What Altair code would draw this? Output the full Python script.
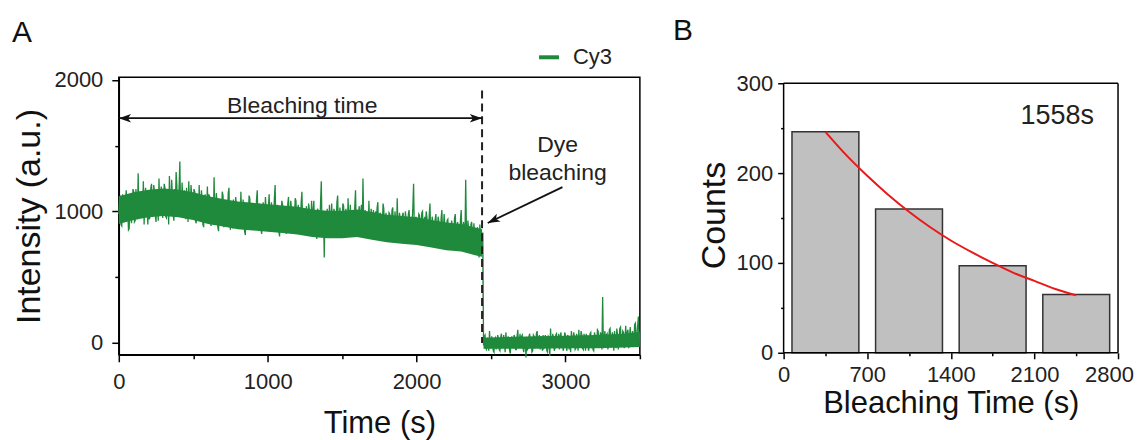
import altair as alt
import pandas as pd

# ---------------- Panel A data: Cy3 intensity trace ----------------
# Samples: one value every 10 s (t = 0, 10, ...)
# and one in between (t = 5, 15, ...).
TIME_STEP = 10
intensity_a = [
    980, 1120, 890, 1050, 940, 1160, 1010, 870, 1080, 990,
    1150, 930, 1060, 1290, 960, 1100, 1020, 900, 1180, 1040,
    1090, 960, 1210, 1030, 1140, 920, 1070, 1250, 990, 1110,
    1040, 1180, 950, 1100, 1270, 1000, 1130, 930, 1060, 1200,
    1020, 1380, 960, 1090, 1160, 940, 1070, 1230, 990, 1120,
    1000, 1150, 910, 1060, 1200, 950, 1080, 880, 1130, 1010,
    970, 1110, 890, 1040, 1260, 930, 1050, 850, 1090, 990,
    1120, 900, 1030, 960, 1180, 860, 1010, 1090, 920, 1050,
    880, 1000, 1150, 910, 980, 820, 1060, 940, 1100, 960,
    870, 1020, 940, 1160, 900, 990, 830, 1070, 950, 1010,
    900, 1130, 860, 990, 940, 1200, 880, 1010, 810, 960,
    1050, 900, 980, 850, 1110, 940, 1020, 870, 960, 1080,
    890, 1000, 930, 1150, 840, 970, 1040, 880, 1010, 920,
    860, 1080, 950, 790, 1000, 900, 1230, 870, 650, 960,
    1020, 880, 940, 1060, 830, 990, 910, 1120, 860, 950,
    900, 1040, 820, 970, 1100, 880, 930, 1010, 850, 1160,
    920, 980, 860, 1050, 1250, 900, 820, 960, 1080, 870,
    940, 1010, 850, 900, 1070, 830, 960, 890, 1020, 860,
    910, 800, 980, 870, 1030, 840, 920, 1100, 820, 950,
    880, 990, 820, 930, 860, 1010, 790, 900, 1210, 850,
    920, 810, 970, 860, 1000, 780, 890, 950, 840, 1060,
    830, 900, 760, 980, 870, 920, 800, 1010, 850, 890,
    790, 940, 850, 720, 900, 820, 980, 760, 870, 810,
    1010, 740, 880, 1240, 790, 860, 700, 920, 770, 830,
    720, 880, 650, 810, 760,
    -20, 60, -50, 20, 90, -40, 10, -70, 40, -10,
    30, -60, 70, -20, 10, 80, -40, 20, -80, 50,
    -10, 40, -50, 100, 0, -30, 60, -70, 20, 30,
    -40, 70, 10, -60, 50, -20, 90, 0, -50, 30,
    60, -30, 20, -70, 40, 110, -10, 30, -40, 70,
    0, -50, 80, 20, -30, 60, -60, 40, 10, 90,
    -20, 50, -40, 30, 100, -10, 60, -50, 20, 70,
    10, -30, 80, 40, -60, 50, 0, 90, -20, 60,
    350, 20, -30, 70, 10, 110, -20, 50, 90, -40,
    60, 20, 120, -10, 80, 30, -30, 100, 40, 10,
    90, 30, 150, 60, 200, 70,
]
intensity_b = [
    1090, 900, 1130, 920, 1080, 930, 860, 1100, 910, 1170,
    920, 1170, 940, 980, 1140, 950, 1230, 1110, 960, 900,
    940, 1180, 960, 1200, 970, 1150, 930, 1020, 1190, 950,
    1210, 960, 1160, 900, 1010, 1240, 980, 1170, 1300, 970,
    1190, 1000, 1220, 950, 1010, 1180, 920, 1050, 1200, 960,
    1170, 930, 1120, 960, 990, 1160, 900, 1100, 970, 1190,
    1130, 920, 1100, 900, 980, 1140, 880, 1070, 940, 1150,
    880, 1080, 930, 1140, 920, 1060, 870, 940, 1110, 900,
    1070, 890, 960, 1090, 850, 1030, 900, 1120, 870, 1040,
    1050, 880, 1090, 910, 1060, 860, 1020, 900, 1110, 870,
    1040, 880, 1070, 860, 1100, 900, 1050, 850, 1010, 1080,
    860, 1040, 830, 1060, 900, 1080, 860, 1030, 1100, 880,
    1050, 850, 1070, 890, 1020, 860, 920, 1060, 840, 1080,
    1010, 860, 830, 1020, 850, 1060, 880, 990, 1000, 840,
    850, 1050, 860, 880, 1020, 840, 1070, 880, 1030, 860,
    1060, 860, 1020, 850, 900, 1050, 840, 880, 1040, 870,
    830, 1040, 1000, 850, 920, 1010, 980, 850, 880, 1020,
    840, 880, 1000, 1030, 830, 990, 840, 1060, 830, 990,
    830, 990, 820, 1010, 850, 1000, 810, 880, 990, 830,
    970, 840, 1000, 810, 980, 850, 960, 1030, 860, 960,
    800, 980, 830, 990, 820, 960, 1000, 810, 970, 830,
    960, 800, 940, 820, 960, 780, 950, 820, 980, 790,
    930, 800, 760, 930, 780, 950, 810, 920, 760, 940,
    780, 920, 770, 860, 930, 750, 900, 790, 910, 740,
    860, 730, 900, 700, 840,
    50, -40, 40, -60, -20, 50, -60, 30, -50, 60,
    -50, 40, -30, 60, -70, -10, 50, -60, 30, -40,
    60, -50, 50, -40, 70, 50, -40, 40, -110, -50,
    50, -30, -70, 60, -40, 70, -30, 60, 50, -60,
    -40, 60, -60, 50, -100, -20, 70, -60, 60, -30,
    70, 50, -40, -60, 80, -30, 60, -50, -70, -20,
    80, -50, 70, -60, -20, 90, -40, 70, -60, -30,
    -60, 70, -40, -50, 80, -30, 100, -40, 80, -50,
    -40, 90, 60, -50, 100, -20, 80, -60, 0, 110,
    -50, 110, -30, 90, -40, 130, 80, -40, 120, -30,
    -20, 140, -10, 130, 0,
]
time = [i * TIME_STEP for i in range(len(intensity_a))] + \
       [i * TIME_STEP + TIME_STEP // 2 for i in range(len(intensity_b))]
intensity = intensity_a + intensity_b
series_name = ["Cy3"] * len(intensity)

# solid core of the trace (lower / upper edge read every ~100 s)
core_t = [0, 100, 200, 300, 400, 500, 600, 700, 800, 900, 1000, 1100, 1200, 1300, 1400,
          1500, 1600, 1700, 1800, 1900, 2000, 2100, 2200, 2300, 2400, 2440,
          2450, 2600, 2800, 3000, 3200, 3400, 3500]
core_lo = [905, 935, 955, 965, 955, 935, 905, 885, 865, 855, 845, 835, 825, 805, 795,
           795, 805, 785, 765, 755, 745, 725, 705, 695, 665, 655,
           -45, -45, -45, -40, -40, -35, -30]
core_hi = [1115, 1145, 1165, 1175, 1165, 1145, 1115, 1095, 1075, 1065, 1055, 1045, 1035, 1015, 1005,
           1005, 1015, 995, 975, 965, 955, 935, 915, 905, 875, 865,
           40, 45, 50, 55, 60, 70, 85]

bleach_time = [2440]
dash_top = [1920]
dash_bottom = [0]
span_y = [1709]
span_label = ["Bleaching time"]
span_label_x = [1232]
span_label_y = [1747]
dye_arrow_tail = (2980, 1185)
dye_arrow_head = (2478, 912)
dye_arrow_angle = 244
dye_text = ["Dye", "bleaching"]
dye_text_x = [2947, 2947]
dye_text_y = [1504, 1291]

# ---------------- Panel B data: bleaching-time histogram ----------------
bar_left = [70, 770, 1470, 2170]
bar_right = [630, 1330, 2030, 2730]
counts = [246, 160, 97, 65]
fit_t = [350, 525, 700, 875, 1050, 1225, 1400, 1575, 1750, 1925, 2100, 2275, 2450]
fit_counts = [246, 220, 197, 176, 157, 140, 125, 112, 100, 89, 80, 71, 64]
tau_label = ["1558s"]
tau_x = [2291]
tau_y = [264]

FONT = "Liberation Sans"
GREEN = "#1f8a3c"
ARROW = "M0,0 L0.7,2 L0,1.5 L-0.7,2 Z"


def minor_axis(values, major_step, title, major=7, minor=4, title_size=31, **kw):
    return alt.Axis(
        values=values,
        format="d",
        labelExpr=f"datum.value % {major_step} == 0 ? datum.label : ''",
        tickSize={"condition": {"test": f"datum.value % {major_step} != 0", "value": minor}, "value": major},
        labelFontSize=22, labelFont=FONT, labelColor="#222",
        title=title, titleFontSize=title_size, titleFont=FONT, titleFontWeight="normal", titleColor="#111",
        grid=False, tickColor="black", tickWidth=1.5, domainColor="black", domainWidth=1.5,
        labelOverlap=False, labelFlush=False, **kw,
    )


# ---------------- Panel A ----------------
axA_x = minor_axis(list(range(0, 3501, 500)), 1000, "Time (s)", labelPadding=10, titlePadding=16)
axA_y = minor_axis(list(range(0, 2001, 500)), 1000, "Intensity (a.u.)", title_size=34,
                   labelPadding=9, titlePadding=8)
scA_x = alt.Scale(domain=[0, 3500], nice=False)
scA_y = alt.Scale(domain=[-90, 2020], nice=False)

dfA = pd.DataFrame({"t": time, "I": intensity, "series": series_name}).sort_values("t")

core = alt.Chart(pd.DataFrame({"t": core_t, "lo": core_lo, "hi": core_hi})).mark_area(
    color=GREEN, opacity=1).encode(
    x=alt.X("t:Q", scale=scA_x, axis=axA_x),
    y=alt.Y("lo:Q", scale=scA_y, axis=axA_y),
    y2="hi:Q")

trace = alt.Chart(dfA).mark_line(strokeWidth=1.3).encode(
    x=alt.X("t:Q", scale=scA_x, axis=axA_x),
    y=alt.Y("I:Q", scale=scA_y, axis=axA_y),
    order="t:Q",
    color=alt.Color("series:N", scale=alt.Scale(domain=["Cy3"], range=[GREEN]),
                    legend=alt.Legend(orient="none", legendX=419, legendY=-32, title=None,
                                      symbolType="stroke", symbolStrokeWidth=4, symbolSize=400,
                                      labelOffset=12, labelFontSize=22, labelFont=FONT,
                                      labelColor="#222")),
)

dash = alt.Chart(pd.DataFrame({"x": bleach_time, "y": dash_top, "y2": dash_bottom})).mark_rule(
    color="#222", strokeWidth=2, strokeDash=[8, 5]).encode(x="x:Q", y="y:Q", y2="y2:Q")

span = alt.Chart(pd.DataFrame({"x": [0], "x2": bleach_time, "y": span_y})).mark_rule(
    color="#111", strokeWidth=1.8).encode(x="x:Q", x2="x2:Q", y="y:Q")

heads_df = pd.DataFrame({
    "x": [0, bleach_time[0], dye_arrow_head[0]],
    "y": [span_y[0], span_y[0], dye_arrow_head[1]],
    "ang": [270, 90, dye_arrow_angle],
})
heads = alt.Chart(heads_df).mark_point(shape=ARROW, filled=True, size=150, color="#111", opacity=1,
                                       strokeWidth=0).encode(
    x="x:Q", y="y:Q", angle=alt.Angle("ang:Q", scale=None))

span_text = alt.Chart(pd.DataFrame({"x": span_label_x, "y": span_label_y, "txt": span_label})).mark_text(
    font=FONT, fontSize=23, color="#222", baseline="alphabetic").encode(x="x:Q", y="y:Q", text="txt:N")

dye_line = alt.Chart(pd.DataFrame({"x": [dye_arrow_tail[0]], "y": [dye_arrow_tail[1]],
                                   "x2": [dye_arrow_head[0]], "y2": [dye_arrow_head[1]]})).mark_rule(
    color="#111", strokeWidth=1.8).encode(x="x:Q", y="y:Q", x2="x2:Q", y2="y2:Q")

dye_txt = alt.Chart(pd.DataFrame({"x": dye_text_x, "y": dye_text_y, "txt": dye_text})).mark_text(
    font=FONT, fontSize=23, color="#222").encode(x="x:Q", y="y:Q", text="txt:N")

panelA = alt.layer(core, trace, dash, span, dye_line, heads, span_text, dye_txt).properties(
    width=522, height=278,
    title=alt.TitleParams("A", anchor="start", frame="bounds", fontSize=30, fontWeight="normal",
                          font=FONT, color="#111", dx=0, offset=21),
)

# ---------------- Panel B ----------------
dfB = pd.DataFrame({"left": bar_left, "right": bar_right, "count": counts})
xB = alt.X("left:Q", scale=alt.Scale(domain=[0, 2800], nice=False),
           axis=minor_axis(list(range(0, 2801, 350)), 700, "Bleaching Time (s)", major=6, minor=3,
                           labelPadding=6, titlePadding=3, domain=False,
                           labelOffset={"condition": {"test": "datum.value == 2800", "value": -9}, "value": 0}))
yB = alt.Y("count:Q", scale=alt.Scale(domain=[0, 306.7], nice=False),
           axis=minor_axis(list(range(0, 301, 50)), 100, "Counts", major=6, minor=3, title_size=34,
                           labelPadding=5, titlePadding=5, domain=False))

bars = alt.Chart(dfB).mark_rect(color="#c0c0c0", stroke="#333", strokeWidth=1.5).encode(
    x=xB, x2="right:Q", y=yB, y2=alt.datum(0))

fit = alt.Chart(pd.DataFrame({"t": fit_t, "c": fit_counts})).mark_line(
    color="#e8191b", strokeWidth=2, interpolate="monotone").encode(x="t:Q", y="c:Q")

frame_df = pd.DataFrame({"x": [0, 2800, 0, 0], "x2": [2800, 2800, 0, 2800],
                         "y": [300, 0, 0, 0], "y2": [300, 300, 300, 0]})
frame = alt.Chart(frame_df).mark_rule(color="black", strokeWidth=1.5).encode(
    x="x:Q", x2="x2:Q", y="y:Q", y2="y2:Q")

tau = alt.Chart(pd.DataFrame({"x": tau_x, "y": tau_y, "txt": tau_label})).mark_text(
    font=FONT, fontSize=27, color="#222").encode(x="x:Q", y="y:Q", text="txt:N")

panelB = alt.layer(bars, fit, frame, tau).properties(
    width=335, height=276,
    view=alt.ViewBackground(stroke="transparent"),
    title=alt.TitleParams("B", anchor="start", frame="bounds", fontSize=30, fontWeight="normal",
                          font=FONT, color="#111", dx=-24, offset=26),
)

chart = alt.hconcat(panelA, panelB, spacing=144, bounds="flush").configure_view(
    stroke="black", strokeWidth=1.5
).properties(padding={"left": 3, "top": 7, "right": 0, "bottom": 0})

chart.save("out.html", embed_options={"renderer": "svg", "actions": False})
